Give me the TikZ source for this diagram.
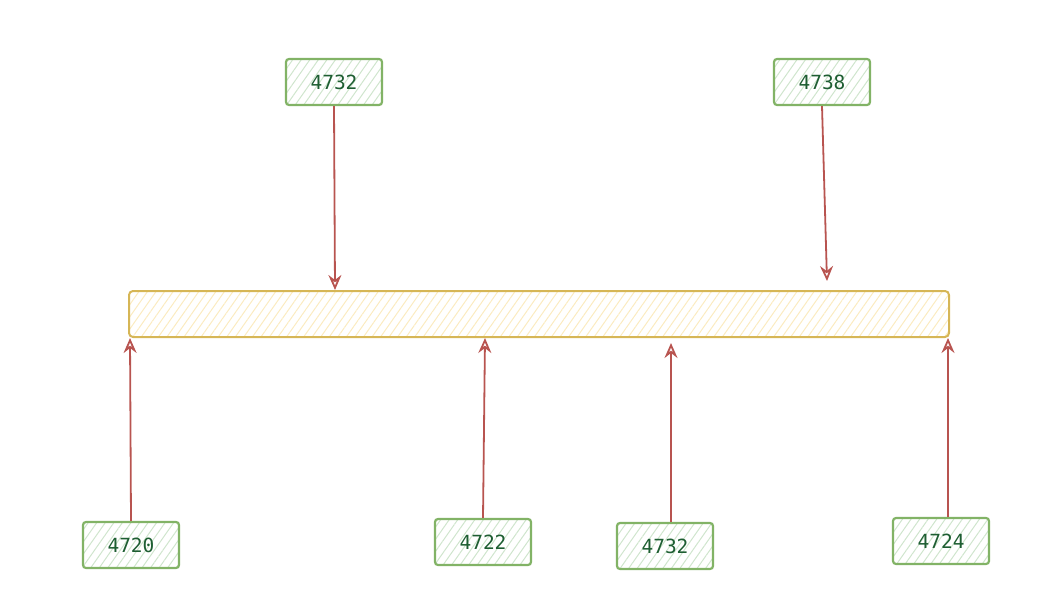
\documentclass[tikz,border=0pt]{standalone}
\usepackage{fontspec}
\setmonofont{DejaVu Sans Mono}
\usetikzlibrary{arrows.meta,patterns.meta}
\definecolor{gbord}{HTML}{82B366}
\definecolor{gfill}{HTML}{CFE5CD}
\definecolor{gtext}{HTML}{1E5E32}
\definecolor{ybord}{HTML}{D6B656}
\definecolor{yfill}{HTML}{FBEBC0}
\definecolor{arr}{HTML}{B85450}
\tikzset{
  numbox/.style={draw=gbord, line width=2.2pt, rounded corners=3pt,
    pattern={Lines[angle=55,distance=7pt,line width=1pt]}, pattern color=gfill,
    minimum width=96pt, minimum height=46pt, inner sep=0pt,
    font=\ttfamily\fontsize{19.5}{19.5}\selectfont, text=gtext},
  bar/.style={draw=ybord, line width=2pt, rounded corners=4pt,
    pattern={Lines[angle=55,distance=7pt,line width=1pt]}, pattern color=yfill,
    minimum width=820pt, minimum height=46pt, inner sep=0pt},
  link/.style={draw=arr, line width=1.8pt, -{Stealth[open,length=15pt,width=13pt,inset=5pt]}}
}
\begin{document}
\begin{tikzpicture}[x=1pt,y=-1pt]
\useasboundingbox (0,0) rectangle (1038,612);
\node[bar] (bar) at (539,314) {};
\node[numbox] (t1) at (334,82) {4732};
\node[numbox] (t2) at (822,82) {4738};
\node[numbox] (b1) at (131,545) {4720};
\node[numbox] (b2) at (483,542) {4722};
\node[numbox] (b3) at (665,546) {4732};
\node[numbox] (b4) at (941,541) {4724};
\coordinate (e1) at (335,290);
\coordinate (e2) at (827,281);
\coordinate (e3) at (130,338);
\coordinate (e4) at (485,338);
\coordinate (e5) at (671,343);
\coordinate (e6) at (948,338);
\draw[link] (t1.south) -- (e1);
\draw[link] (t2.south) -- (e2);
\draw[link] (b1.north) -- (e3);
\draw[link] (b2.north) -- (e4);
\draw[link] (b3.north -| e5) -- (e5);
\draw[link] (b4.north -| e6) -- (e6);
\end{tikzpicture}
\end{document}
